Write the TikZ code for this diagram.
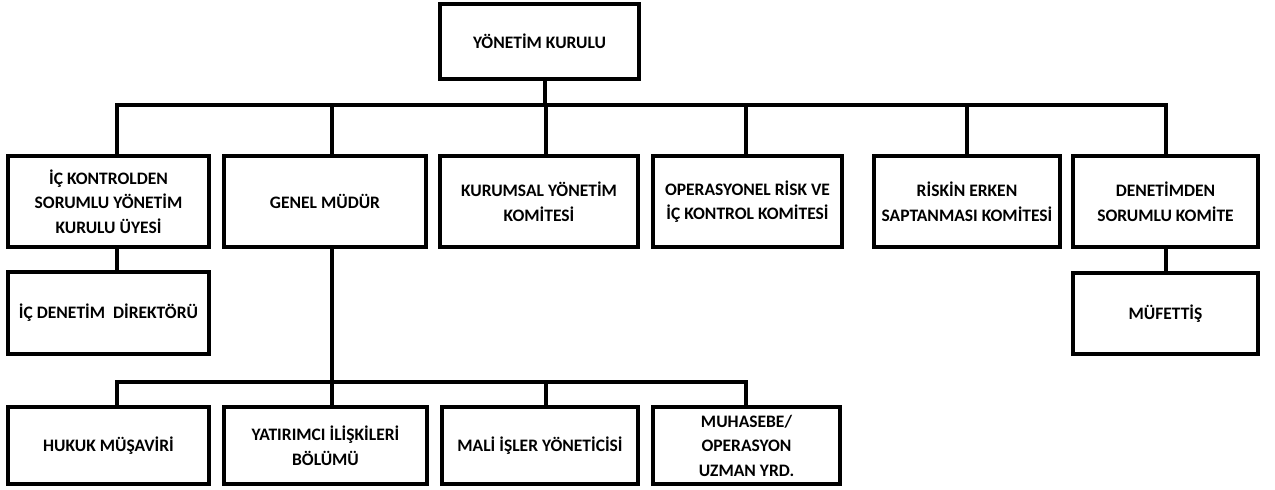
\documentclass[tikz,border=0pt]{standalone}
\usepackage{fontspec}
\setmainfont{Carlito}
\begin{document}
\begin{tikzpicture}[x=1pt,y=-1pt,
  box/.style={draw, line width=3.1pt, align=center, inner sep=0pt,
    font=\fontsize{17.5}{24.5}\selectfont\bfseries},
  conn/.style={line width=3.1pt}]
\useasboundingbox (0,0) rectangle (1275,490);
% top
\node[box, minimum width=199pt, minimum height=75pt] (yk) at (539.5,41.5) {YÖNETİM KURULU};
% row 1
\node[box, minimum width=201pt, minimum height=91pt] (ick) at (108.5,201.5) {İÇ KONTROLDEN\\SORUMLU YÖNETİM\\KURULU ÜYESİ};
\node[box, minimum width=202pt, minimum height=91pt] (gm) at (325,201.5) {GENEL MÜDÜR};
\node[box, minimum width=198pt, minimum height=91pt] (kyk) at (539,201.5) {KURUMSAL YÖNETİM\\KOMİTESİ};
\node[box, minimum width=189pt, minimum height=91pt] (ork) at (747.5,201.5) {OPERASYONEL RİSK VE\\İÇ KONTROL KOMİTESİ};
\node[box, minimum width=186pt, minimum height=91pt] (rek) at (967,201.5) {RİSKİN ERKEN\\SAPTANMASI KOMİTESİ};
\node[box, minimum width=185pt, minimum height=91pt] (dsk) at (1165.5,201.5) {DENETİMDEN\\SORUMLU KOMİTE};
% row 2
\node[box, minimum width=201pt, minimum height=82pt] (idd) at (108.5,313) {İÇ DENETİM\ \ DİREKTÖRÜ};
\node[box, minimum width=185pt, minimum height=81pt] (muf) at (1165.5,313.5) {MÜFETTİŞ};
% bottom row
\node[box, minimum width=201pt, minimum height=77pt] (hm) at (108.5,445.5) {HUKUK MÜŞAVİRİ};
\node[box, minimum width=203pt, minimum height=77pt] (yib) at (325.5,445.5) {YATIRIMCI İLİŞKİLERİ\\BÖLÜMÜ};
\node[box, minimum width=196pt, minimum height=77pt] (miy) at (540,445.5) {MALİ İŞLER YÖNETİCİSİ};
\node[box, minimum width=187pt, minimum height=77pt] (muh) at (746.5,445.5) {MUHASEBE/\\OPERASYON\\UZMAN YRD.};
% bus coordinates
\coordinate (t0) at (545,105);
\coordinate (t1) at (117,105);
\coordinate (t2) at (332,105);
\coordinate (t3) at (546,105);
\coordinate (t4) at (746,105);
\coordinate (t5) at (967,105);
\coordinate (t6) at (1166,105);
\coordinate (u1) at (117,382);
\coordinate (u2) at (332,382);
\coordinate (u3) at (546,382);
\coordinate (u4) at (746,382);
% connectors top
\draw[conn] (yk.south -| t0) -- (t0);
\draw[conn] (t1 |- ick.north) -- (t1) -- (t6) -- (t6 |- dsk.north);
\draw[conn] (t2) -- (t2 |- gm.north);
\draw[conn] (t3) -- (t3 |- kyk.north);
\draw[conn] (t4) -- (t4 |- ork.north);
\draw[conn] (t5) -- (t5 |- rek.north);
% row 2 connectors
\draw[conn] (t1 |- ick.south) -- (t1 |- idd.north);
\draw[conn] (t6 |- dsk.south) -- (t6 |- muf.north);
% bottom connectors
\draw[conn] (u2 |- gm.south) -- (u2 |- yib.north);
\draw[conn] (u1 |- hm.north) -- (u1) -- (u4) -- (u4 |- muh.north);
\draw[conn] (u3) -- (u3 |- miy.north);
\end{tikzpicture}
\end{document}
